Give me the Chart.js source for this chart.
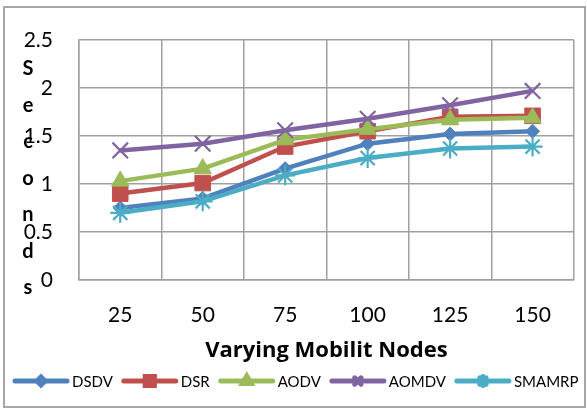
<!DOCTYPE html>
<html><head><meta charset="utf-8">
<script src="https://cdn.jsdelivr.net/npm/chart.js@4/dist/chart.umd.min.js"></script>
<style>html,body{margin:0;padding:0;background:#fff;}</style>
</head><body>
<canvas id="c" width="587" height="410"></canvas>
<script>
// ---- data ----
const categories = ['25', '50', '75', '100', '125', '150'];
const seriesNames = ['DSDV', 'DSR', 'AODV', 'AOMDV', 'SMAMRP'];
const dsdv   = [0.75, 0.85, 1.16, 1.42, 1.52, 1.55];
const dsr    = [0.90, 1.01, 1.39, 1.55, 1.70, 1.71];
const aodv   = [1.03, 1.16, 1.46, 1.57, 1.67, 1.69];
const aomdv  = [1.35, 1.42, 1.56, 1.68, 1.82, 1.97];
const smamrp = [0.70, 0.82, 1.09, 1.27, 1.37, 1.39];
const yTickLabels = ['0', '0.5', '1', '1.5', '2', '2.5'];
const xTitle = 'Varying Mobilit Nodes';
const yTitle = 'Seconds';

// ---- styles ----
const seriesValues = [dsdv, dsr, aodv, aomdv, smamrp];
const colors = ['#4F81BD', '#C0504D', '#9BBB59', '#8064A2', '#4BACC6'];
const markers = ['rectRot', 'rect', 'triangle', 'crossRot', 'star'];
const markerR = [7, 11, 10, 11, 10];
const legendR = [4, 6.5, 5, 4.5, 4.5];
const FONT = 'Lato, "Open Sans", sans-serif';

const datasets = seriesNames.map((name, i) => ({
  label: name,
  data: seriesValues[i],
  borderColor: colors[i],
  backgroundColor: colors[i],
  borderWidth: 4.5,
  pointStyle: markers[i],
  pointRadius: markerR[i],
  pointBorderWidth: (markers[i] === 'crossRot' || markers[i] === 'star') ? 2.2 : 1,
  pointBackgroundColor: colors[i],
  pointBorderColor: colors[i],
  tension: 0,
  order: seriesNames.length - i
}));

const decor = {
  id: 'decor',
  beforeDraw(chart) {
    const ctx = chart.ctx;
    ctx.save();
    ctx.fillStyle = '#fff';
    ctx.fillRect(0, 0, chart.width, chart.height);
    ctx.strokeStyle = '#a6a6a6';
    ctx.lineWidth = 2;
    ctx.strokeRect(4, 7, 581, 400);
    ctx.restore();
  },
  afterDraw(chart) {
    const ctx = chart.ctx;
    ctx.save();
    // vertical stacked y title
    ctx.fillStyle = '#000';
    ctx.font = 'bold 20px ' + FONT;
    ctx.textAlign = 'center';
    ctx.textBaseline = 'alphabetic';
    const letters = yTitle.split('');
    letters.forEach((ch, k) => ctx.fillText(ch, 28, 75 + k * 36.5));
    // legend
    ctx.font = '15px ' + FONT;
    ctx.textAlign = 'left';
    ctx.textBaseline = 'middle';
    let x = 13;
    const y = 381;
    chart.data.datasets.forEach((ds, i) => {
      ctx.strokeStyle = ds.borderColor;
      ctx.lineWidth = 5;
      ctx.lineCap = 'round';
      ctx.beginPath();
      ctx.moveTo(x + 2, y);
      ctx.lineTo(x + 54, y);
      ctx.stroke();
      ctx.fillStyle = ds.backgroundColor;
      Chart.helpers.drawPoint(ctx, {
        pointStyle: ds.pointStyle, radius: legendR[i], rotation: 0,
        borderWidth: (ds.pointStyle === 'crossRot' || ds.pointStyle === 'star') ? 2 : 1
      }, x + 28, y);
      x += 59;
      ctx.fillStyle = '#000';
      ctx.fillText(ds.label, x, y + 1);
      x += ctx.measureText(ds.label).width + 9;
    });
    ctx.restore();
  }
};

new Chart(document.getElementById('c'), {
  type: 'line',
  data: { labels: categories, datasets },
  options: {
    responsive: false,
    devicePixelRatio: 1,
    animation: false,
    layout: { padding: { top: 40, right: 12, bottom: 0, left: 0 } },
    plugins: {
      legend: { display: false },
      tooltip: { enabled: false }
    },
    scales: {
      x: {
        offset: true,
        grid: { offset: true, color: '#a0a0a0', lineWidth: 1.5, drawTicks: false },
        border: { color: '#a0a0a0', width: 1.5 },
        ticks: { color: '#000', font: { family: FONT, size: 21 }, padding: 23, maxRotation: 0 },
        title: { display: true, text: xTitle, color: '#000',
                 font: { family: '"Open Sans", Lato, sans-serif', size: 22, weight: 'bold' },
                 padding: { top: 0, bottom: 46 } },
        afterFit(s) { s.height = 130; }
      },
      y: {
        min: 0, max: 2.5,
        grid: { color: '#a0a0a0', lineWidth: 1.5, drawTicks: false },
        border: { color: '#a0a0a0', width: 1.5 },
        ticks: { stepSize: 0.5, color: '#000', font: { family: FONT, size: 21 }, padding: 26,
                 callback: (v, i) => yTickLabels[i] },
        afterFit(s) { s.width = 79; }
      }
    }
  },
  plugins: [decor]
});
</script>
</body></html>
